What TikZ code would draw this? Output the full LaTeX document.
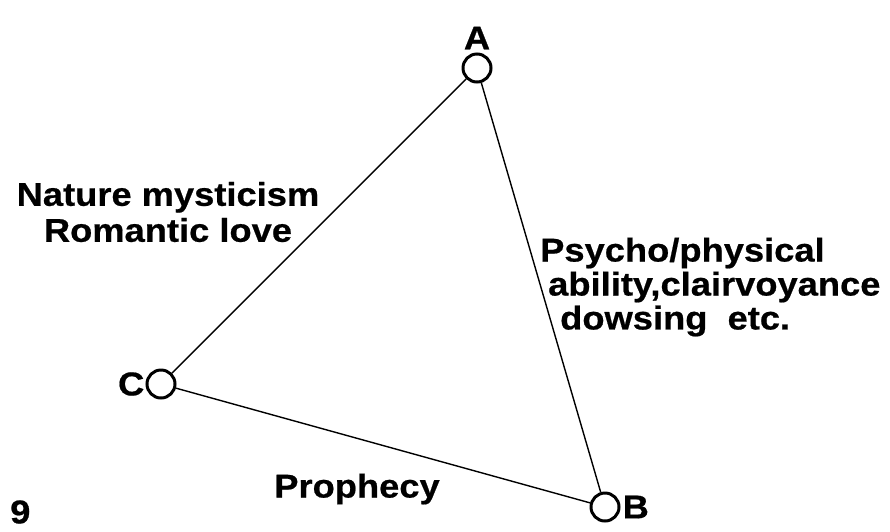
\documentclass[tikz,border=0pt]{standalone}
\usepackage{fontspec}
\setmainfont{Liberation Sans}[FakeStretch=1.1, FakeBold=0.6]
\usetikzlibrary{positioning}

\tikzset{
    vertex/.style={draw, circle, line width=3pt, minimum size=28pt, inner sep=0pt},
    txt/.style={font=\bfseries\fontsize{33}{36}\selectfont, inner sep=0pt},
    edge/.style={line width=1.4pt}
}

\begin{document}
\begin{tikzpicture}[x=1pt, y=-1pt]
    % frame of the page
    \useasboundingbox (0,0) rectangle (890,531);

    % the three corners
    \node[vertex] (A) at (477,68) {};
    \node[vertex] (B) at (605,507) {};
    \node[vertex] (C) at (161,384) {};

    % corner letters
    \node[txt, above=3pt of A] (Alab) {A};
    \node[txt, right=2pt of B] (Blab) {B};
    \node[txt, left=1pt of C] (Clab) {C};

    % sides
    \draw[edge] (A) -- (C);
    \draw[edge] (A) -- (B);
    \draw[edge] (C) -- (B);

    % side labels
    \node[txt, align=center] (nature) at (168,212) {Nature mysticism\\Romantic love};
    \node[txt, anchor=west] (psy1) at (540,253) {Psycho/physical};
    \node[txt, anchor=west] (psy2) at (548,287) {ability,clairvoyance};
    \node[txt, anchor=west] (psy3) at (560,321) {dowsing\ \ etc.};
    \node[txt] (proph) at (357,489) {Prophecy};

    % figure number
    \node[txt, anchor=west] (fig) at (10,512) {9};
\end{tikzpicture}
\end{document}
